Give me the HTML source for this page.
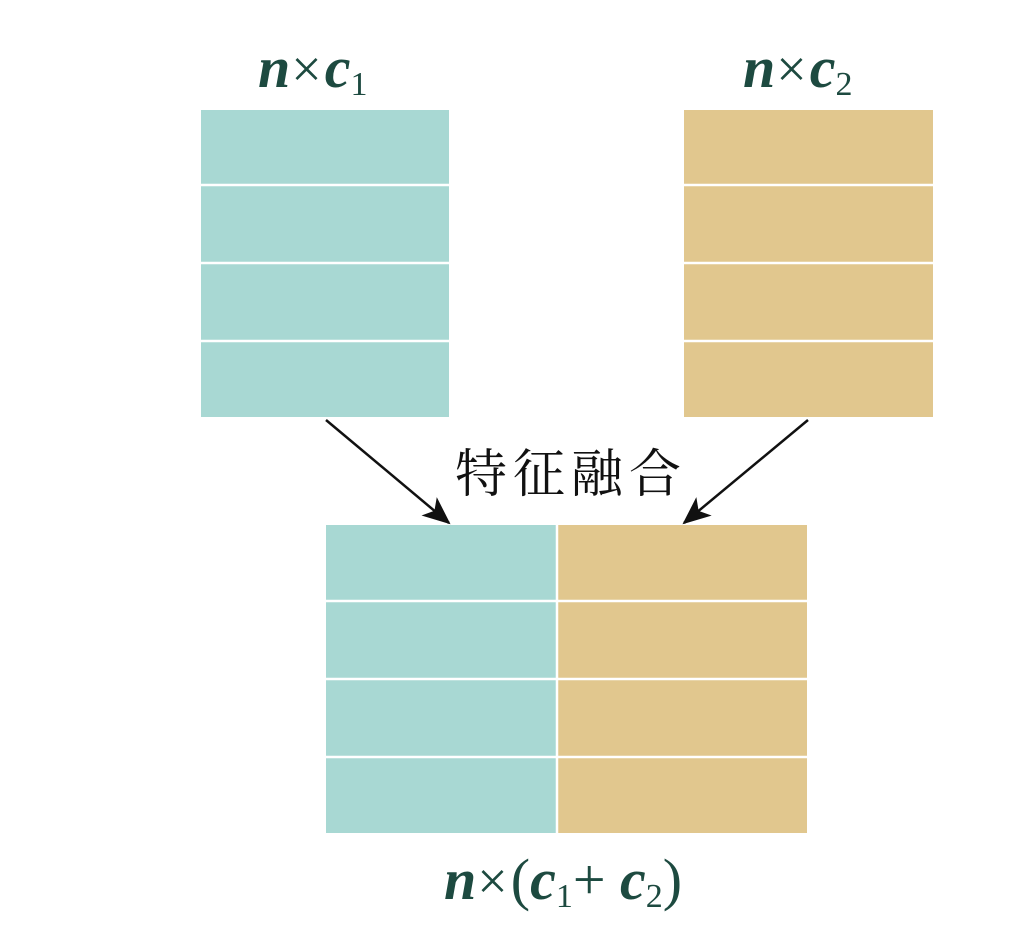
<!DOCTYPE html>
<html><head><meta charset="utf-8"><style>
html,body{margin:0;padding:0;background:#fff;}
body{width:1009px;height:941px;position:relative;overflow:hidden;}
.lab{position:absolute;font-family:"Liberation Serif",serif;color:#1d4a40;font-size:58px;white-space:nowrap;line-height:70px;}
.lab i{font-style:italic;font-weight:bold;}
.lab .x{font-size:54px;margin:0 3px 0 1px;}
.lab sub{font-size:34px;vertical-align:-8px;}
.cn{position:absolute;left:455px;top:440px;font-family:"Noto Serif CJK SC","Noto Sans CJK SC",serif;font-size:52px;letter-spacing:6px;color:#111;line-height:60px;}
</style></head><body>
<svg width="1009" height="941" style="position:absolute;left:0;top:0">
<defs><marker id="a" markerWidth="28" markerHeight="24" refX="26" refY="12" orient="auto" markerUnits="userSpaceOnUse" viewBox="0 0 28 24"><path d="M0,0 L28,12 L0,24 L7,12z" fill="#111"/></marker></defs>
<g fill="#a8d8d3"><rect x="201" y="110" width="248" height="307"/><rect x="326" y="525" width="231" height="308"/></g>
<g fill="#e1c78e"><rect x="684" y="110" width="249" height="307"/><rect x="557" y="525" width="250" height="308"/></g>
<g stroke="#fff" stroke-width="2.5">
<line x1="201" y1="185" x2="933" y2="185"/><line x1="201" y1="263" x2="933" y2="263"/><line x1="201" y1="341" x2="933" y2="341"/>
<line x1="326" y1="601" x2="807" y2="601"/><line x1="326" y1="679" x2="807" y2="679"/><line x1="326" y1="757" x2="807" y2="757"/>
<line x1="557" y1="525" x2="557" y2="833"/>
</g>
<rect x="449" y="100" width="235" height="320" fill="#fff"/>
<g stroke="#111" stroke-width="2.5" fill="none">
<line x1="326" y1="420" x2="449" y2="523" marker-end="url(#a)"/>
<line x1="808" y1="420" x2="684" y2="523" marker-end="url(#a)"/>
</g>
</svg>
<div class="lab" style="left:258px;top:33px"><i>n</i><span class="x">×</span><i>c</i><sub>1</sub></div>
<div class="lab" style="left:743px;top:33px"><i>n</i><span class="x">×</span><i>c</i><sub>2</sub></div>
<div class="cn">特征融合</div>
<div class="lab" style="left:444px;top:845px"><i>n</i><span class="x">×</span>(<i>c</i><sub>1</sub>+ <i>c</i><sub>2</sub>)</div>
</body></html>
